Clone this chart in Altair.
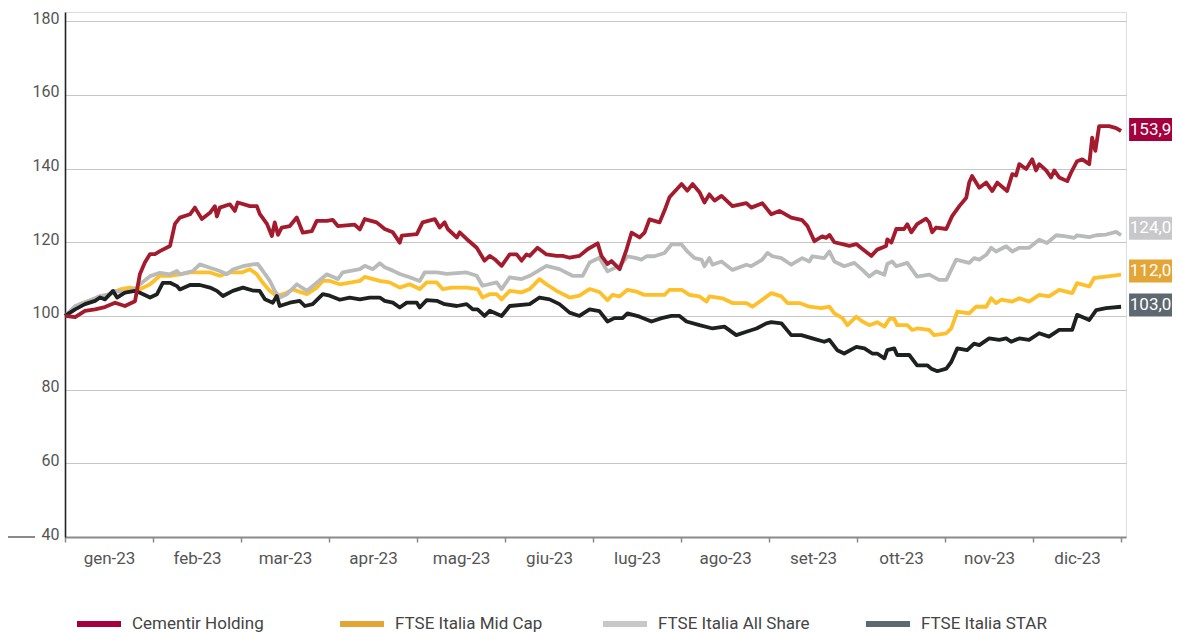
import json
import altair as alt
import pandas as pd

series_names = ["Cementir Holding", "FTSE Italia Mid Cap", "FTSE Italia All Share", "FTSE Italia STAR"]
line_colors = ["#a51b2e", "#fdbf2a", "#b9baba", "#1f2121"]
legend_colors = ["#a4003e", "#e3a535", "#c8c8ca", "#5e6871"]
months = ["gen-23", "feb-23", "mar-23", "apr-23", "mag-23", "giu-23",
          "lug-23", "ago-23", "set-23", "ott-23", "nov-23", "dic-23"]
# end-of-period labels, in the same order as series_names
end_labels = ["153,9", "112,0", "124,0", "103,0"]
end_label_pos = [150.6, 112.2, 123.8, 103.0]
y_ticks = [40, 60, 80, 100, 120, 140, 160, 180]

# (day of year, index value)
cementir = [(0,100),(3.5,99.7),(6.9,101.4),(10.4,101.8),(13.8,102.4),(17.3,103.6),(20.7,102.7),(24.2,104),
 (25.9,111.4),(27.6,114.5),(29.4,116.8),(31.1,116.8),(32.8,117.6),(36.3,119),(38,125),(39.7,126.7),(43.2,127.6),
 (44.9,129.4),(47.3,126.3),(50.1,128),(51.8,129.8),(52.5,127),(53.5,129.4),(57,130.3),(58.7,128.5),(59.7,130.8),
 (63.9,129.8),(66.3,129.8),(67.3,127.7),(69.8,125),(71.5,121.7),(72.5,125.4),(73.6,122),(74.9,124),(77.7,124.4),
 (80.1,126.7),(82.2,122.6),(85.3,123),(87,125.8),(90.5,125.8),(92.5,126.1),(94.3,124.4),(100.1,124.8),(101.9,123.5),
 (103.6,126.3),(107.7,125.4),(110.5,123.6),(113.3,122.7),(115.7,119.9),(116.4,121.8),(121.6,122.2),(123.6,125.4),
 (127.8,126.3),(129.5,124),(131.2,125.4),(132.3,123.6),(135.4,121.3),(136.4,122.7),(138.8,120.9),(142.3,118.5),
 (145,115),(146.8,116.3),(148.5,115.4),(150.9,113.6),(153.7,116.7),(156.1,116.7),(157.8,115),(159.5,116.7),
 (160.6,116.3),(163.3,118.5),(166.4,116.7),(169.9,116.3),(172,116.3),(174.4,115.8),(177.8,116.3),(180.6,118.1),
 (184.1,119.7),(185.4,116.3),(187.5,114.1),(188.9,114.9),(191.7,112.7),(194.1,118.1),(195.8,122.6),(198.6,121.3),
 (200.3,122.6),(202,126.2),(205.5,125.4),(207.2,128.6),(208.9,132.2),(213.1,135.8),(215.1,134),(216.9,135.8),
 (219.3,133.6),(221,130.8),(222.7,133),(224.5,131.3),(226.9,132.6),(230.7,129.8),(235.5,130.6),(237.2,129.4),
 (241,130.6),(244.1,127.6),(246.9,128.5),(251,126.7),(254.8,126),(256.6,124.4),(259,120.3),(261.7,121.6),
 (263.1,121.2),(264.2,122),(265.9,120),(268.7,119.5),(271.1,119),(273.5,119.5),(275.6,118.2),(278.7,116.3),
 (280.7,118),(283.8,119),(284.2,120.8),(285.6,119.9),(287.3,123.6),(290,123.6),(291.1,124.9),(292.5,122.7),
 (294.5,124.9),(297.6,126.4),(298.7,125.4),(299.7,122.7),(301.1,124),(304.6,123.6),(306.6,127.1),(309.1,129.8),
 (311.5,132.1),(312.5,136.2),(313.5,138),(316,134.8),(318.4,136.2),(320.5,133.9),(322.2,136.2),(325.6,133.9),
 (327.4,138.5),(328.7,138.1),(329.8,141.2),(332.2,139.9),(334.3,142.5),(335.6,139.5),(336.7,141.2),(339.1,139.5),
 (340.8,137.6),(341.9,139.5),(343.6,137.6),(346.4,136.6),(347.7,138.9),(349.8,142),(351.6,142.5),(354,141.2),
 (355,148.4),(356.1,144.8),(357.4,151.5),(360.9,151.5),(363.3,151),(365,150.2)]

mid_cap = [(0,100),(5.2,103.2),(9.7,104.5),(15.5,105.9),(19,107.2),(22.4,107.7),(25.9,107.2),(29.4,108.6),
 (32.8,110.9),(36.3,110.9),(39.7,111.3),(43.2,111.8),(46.6,111.8),(50.1,111.8),(53.5,110.9),(57,111.8),(61.1,111.8),
 (63.9,112.7),(66.3,111.3),(68.4,109),(70.8,106.8),(73.2,105.4),(76.7,106.3),(78.7,107.2),(83.6,105.9),(87,107.7),
 (89.1,109.5),(91.5,109.5),(95,108.6),(101.9,109.5),(103.6,110.6),(108.8,109.5),(112.2,109.1),(115.7,107.7),
 (119.1,108.6),(122.6,107.3),(125,109.1),(128.5,109.1),(130.5,107.3),(133.6,107.7),(138.8,107.7),(142.6,107.3),
 (144.3,105),(146.8,105.9),(149.2,105.9),(150.9,104.5),(153.7,106.8),(157.8,106.4),(160.6,107.3),(164,110),
 (166.4,108.6),(169.9,106.8),(174.4,105),(177.8,105.5),(181.3,107.3),(184.7,106.5),(187.5,104.3),(189.2,105.7),
 (191.7,105.3),(194.4,107.1),(197.5,106.6),(200.3,105.7),(207.2,105.7),(208.9,107.1),(213.1,107.1),(215.8,105.7),
 (219.3,105.3),(221.7,103.9),(222.7,105.3),(227.2,104.8),(230.7,103.5),(235.5,103.5),(237.6,102.5),(241,104.4),
 (244.1,106.2),(247.6,105.3),(249.7,103.5),(253.8,103.5),(257.3,102.5),(261.4,102.1),(264.2,102.5),(265.9,100.7),
 (268.7,99.4),(270.4,97.5),(273.5,99.8),(275.6,98.5),(278,97.5),(280.7,98.3),(283.2,97.1),(284.9,99.2),(286.6,99.2),
 (287.6,97.5),(291.1,97.5),(292.8,96.2),(294.5,96.6),(298.7,96.2),(300.4,94.8),(304.6,95.3),(306.3,96.6),
 (308.4,101.2),(312.5,100.7),(314.9,102.5),(318.4,102.5),(320.1,104.8),(321.8,103.5),(323.6,104.4),(327.4,103.9),
 (329.8,104.8),(333.2,103.9),(336.7,105.7),(340.1,105.3),(343.6,107.1),(348.1,106.2),(349.8,108.9),(354,108),
 (355.7,110.3),(359.8,110.7),(365,111.2)]

all_share = [(0,100),(3.5,102.7),(8.6,104.2),(12.1,105.4),(15.5,105.9),(17.3,106.8),(20.7,106.3),(24.2,107.2),
 (25.9,108.6),(29.4,110.8),(32.8,111.7),(36.3,111.3),(38.7,112.2),(39.7,111.3),(44.2,112.2),(46.6,114),(50.1,113.1),
 (53.5,112.2),(55.9,111.3),(58,112.6),(61.5,113.5),(64.9,114),(66.6,114.1),(68.4,112.2),(70.8,109.5),(72.5,106.8),
 (74.2,105),(76.7,105.9),(78.4,107.2),(80.1,108.6),(83.6,106.8),(87,109),(90.5,111.3),(94.3,110),(96,111.8),
 (101.9,112.7),(103.6,113.6),(106.4,112.7),(108.8,114.3),(110.5,113.2),(113.3,112.3),(115.7,111.4),(119.1,110.5),
 (122.6,109.5),(124.3,111.8),(128.5,111.8),(131.9,111.4),(138.8,111.8),(142.3,110.9),(144.3,108.2),(149.2,109.1),
 (150.9,107.3),(153.7,110.5),(157.8,110),(160.6,110.9),(166.4,113.6),(170.9,112.7),(175.4,110.9),(178.9,110.9),
 (181.3,114.5),(184.7,115.8),(187.5,112.1),(189.9,113),(191.7,113.5),(194.4,116.2),(197.5,115.7),(199.2,115.3),
 (201,116.2),(203.7,116.2),(207.2,117.1),(209.6,119.4),(213.1,119.4),(215.1,117.5),(217.6,115.7),(220,115.3),
 (221,113.5),(222.7,115.7),(223.8,113.9),(226.9,114.8),(230.7,112.5),(235.5,113.9),(237.2,113.5),(241,115.3),
 (242.8,117.1),(244.5,116.2),(247.6,115.7),(251,113.9),(254.8,115.7),(257.3,114.8),(258.3,116.2),(262.4,115.7),
 (264.2,117.5),(265.9,114.8),(269.3,113.5),(272.8,114.4),(275.6,112.5),(278,110.7),(280.4,112.1),(283.2,111.2),
 (284.2,114.1),(285.9,114.8),(287.3,113.5),(291.1,114.4),(294.5,110.7),(298.7,111.2),(302.1,109.8),(304.6,109.8),
 (308,115.3),(312.5,114.4),(314.2,115.7),(316,115.3),(318.4,116.6),(320.1,118.5),(321.8,117.5),(325.3,118.9),
 (327.4,117.5),(329.8,118.5),(333.2,118.5),(336.7,120.7),(339.4,119.8),(342.6,121.9),(346,121.6),(348.8,121.2),
 (349.8,121.9),(354,121.4),(356.4,121.9),(359.8,122.1),(363.3,122.8),(365,121.9)]

star = [(0,100),(3.5,101.8),(6.9,103.2),(10.4,104.1),(12.1,105),(13.8,104.5),(16.6,106.8),(18,105),(20.7,106.3),
 (24.2,106.8),(25.9,106.3),(29.4,105),(31.8,105.9),(33.8,109),(36.3,109),(38.7,108.1),(39.7,107.2),(43.2,108.4),
 (46.6,108.4),(50.1,107.7),(52.5,106.8),(54.6,105.4),(58,106.8),(61.5,107.7),(64.9,106.9),(67.3,106.8),(69.1,104.5),
 (71.8,103.6),(73.2,105.4),(74.2,102.7),(77.7,103.6),(81.1,104.1),(82.9,102.7),(85.6,103.2),(89.1,105.9),(91.5,105.5),
 (95,104.4),(98.4,105),(101.9,104.5),(105.3,105),(108.8,105),(110.5,104.1),(113.3,103.6),(115.7,102.3),(118.1,103.6),
 (121.6,103.6),(122.6,102.3),(125,104.3),(128.5,104.1),(131.2,103.2),(135.4,102.7),(138.8,103.2),(140.9,101.8),
 (142.6,101.8),(145,100),(146.8,101.4),(150.9,100),(153.7,102.7),(160.6,103.2),(164,105),(167.5,104.5),(170.9,103.2),
 (174.4,100.9),(177.8,100),(181.3,101.8),(184.7,101.3),(187.5,98.5),(189.9,99.4),(192.7,99.4),(194.4,100.7),
 (198.6,99.8),(202.7,98.5),(206.2,99.4),(209.6,100),(212.4,100),(214.8,98.5),(219.3,97.5),(223.8,96.6),(227.9,97.1),
 (232,94.8),(235.5,95.7),(239,96.6),(242.4,98),(244.1,98.3),(247.6,98),(251,94.8),(254.5,94.8),(258.3,93.9),
 (262.4,93),(264.2,93.5),(266.9,90.7),(269.3,89.8),(273.5,91.6),(276.3,91.2),(279,89.8),(280.7,89.8),(283.2,88.5),
 (284.2,90.7),(286.6,91.2),(287.6,89.4),(291.8,89.4),(294.5,86.6),(298,86.6),(299.4,85.7),(301.5,85),(304.6,85.7),
 (306.3,87.5),(308.4,91.2),(311.8,90.7),(314.2,92.5),(316,92.1),(319.4,93.9),(322.9,93.5),(325.3,93.9),(327,93),
 (329.8,93.9),(333.2,93.5),(336.7,95.3),(340.1,94.4),(343.6,96.2),(348.1,96.2),(349.8,100.3),(354,98.9),
 (356.4,101.6),(359.8,102.1),(365,102.5)]

series_data = [cementir, mid_cap, all_share, star]

FONT = "Roboto"
x_domain = [0, 366.7]
tick_days = [round(i * 365 / 12, 3) for i in range(13)]
label_expr = ("datum.value >= 364 ? '' : " + json.dumps(months) +
              "[round(datum.value / (365 / 12))]")

x_enc = alt.X("giorno:Q", scale=alt.Scale(domain=x_domain, nice=False, zero=False),
              axis=alt.Axis(values=tick_days, labelExpr=label_expr, labelOffset=44,
                            labelFlush=False, labelOverlap=False, grid=False, title=None,
                            tickSize=5, tickColor="#8a8a8a", tickWidth=1.5,
                            domainColor="#8a8a8a", domainWidth=2,
                            labelPadding=8, labelFontSize=17, labelColor="#555555",
                            labelFont=FONT))
y_enc = alt.Y("valore:Q", scale=alt.Scale(domain=[40, 182.5], nice=False, zero=False),
              axis=alt.Axis(values=y_ticks, grid=True, gridColor="#c6c6c6", gridWidth=1.2,
                            domainColor="#222222", domainWidth=1.6, ticks=False,
                            labelPadding=6, labelFontSize=16, labelColor="#555555",
                            labelFont=FONT, labelOffset=-3, title=None))

layers = []
# draw order: Mid Cap, All Share, STAR, Cementir on top
for i in [1, 2, 3, 0]:
    df = pd.DataFrame(series_data[i], columns=["giorno", "valore"])
    layers.append(
        alt.Chart(df).mark_line(strokeWidth=3.8, strokeJoin="round").encode(
            x=x_enc, y=y_enc, color=alt.value(line_colors[i]))
    )

# legend carrier: one point per series (draws nothing)
legend_df = pd.DataFrame({"serie": series_names, "giorno": [0] * 4, "valore": [100] * 4})
legend_layer = alt.Chart(legend_df).mark_line(strokeWidth=0.01).encode(
    x=x_enc, y=y_enc,
    color=alt.Color("serie:N",
                    scale=alt.Scale(domain=series_names, range=legend_colors),
                    legend=alt.Legend(orient="none", legendX=9, legendY=587, direction="horizontal",
                                      columns=4, gridAlign="all", columnPadding=44, title=None,
                                      symbolType="stroke", symbolSize=1936, symbolStrokeWidth=6,
                                      symbolOpacity=1, labelOffset=8, labelFontSize=17,
                                      labelColor="#444444", labelFont=FONT, padding=0,
                                      labelLimit=300)))

lab_df = pd.DataFrame({"giorno": [365] * 4, "pos": end_label_pos, "label": end_labels,
                       "box": legend_colors})
boxes = alt.Chart(lab_df).mark_rect(xOffset=8, x2Offset=51, yOffset=-11.5, y2Offset=11.5).encode(
    x=alt.X("giorno:Q"), x2="giorno:Q", y=alt.Y("pos:Q"), y2="pos:Q",
    fill=alt.Fill("box:N", scale=None))
texts = alt.Chart(lab_df).mark_text(color="white", font=FONT, fontSize=17, dx=29.5,
                                     align="center", baseline="middle").encode(
    x=alt.X("giorno:Q"), y=alt.Y("pos:Q"), text="label:N")

edge = alt.Chart(pd.DataFrame({"v": [40]})).mark_rule(color="#8a8a8a", strokeWidth=2).encode(
    y=alt.Y("v:Q"), x=alt.value(-57), x2=alt.value(-30))

chart = alt.layer(*layers, legend_layer, boxes, texts, edge).properties(
    width=1061, height=525,
    padding={"left": 57, "top": 4, "right": 46, "bottom": 95},
    autosize=alt.AutoSizeParams(type="none"),
).configure_view(stroke=None).configure(background="white")

chart.save("out.html", embed_options={"renderer": "svg", "actions": False})
